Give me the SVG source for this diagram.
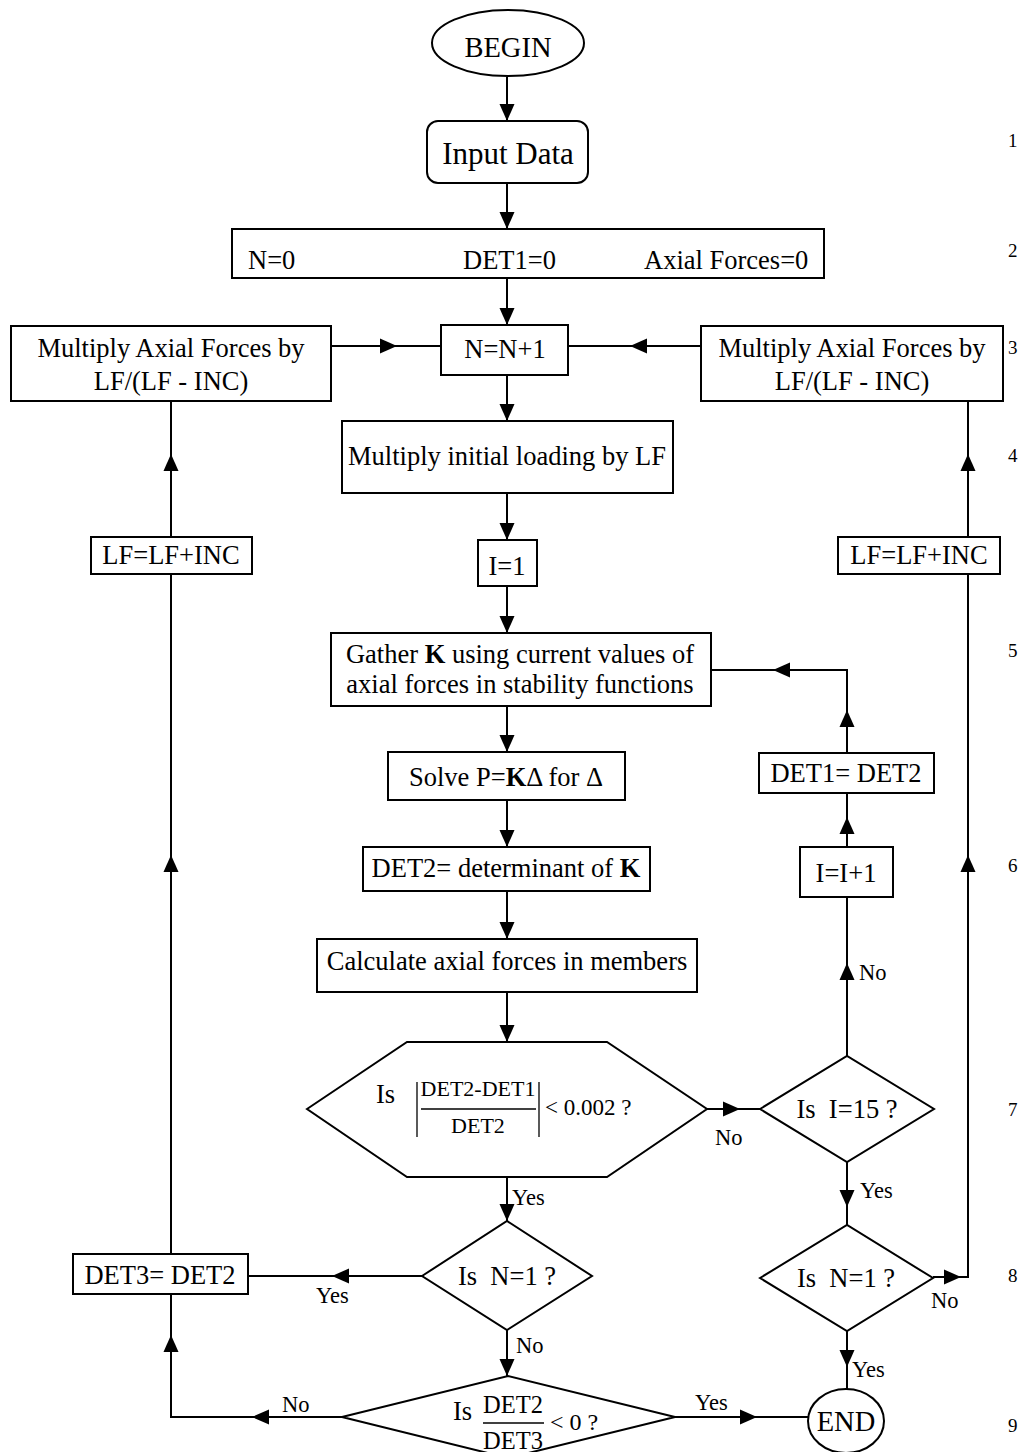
<svg xmlns="http://www.w3.org/2000/svg" xmlns:xlink="http://www.w3.org/1999/xlink" width="1032" height="1452" viewBox="0 0 1032 1452">
  <style>
    .shape { fill: #fff; stroke: #000; stroke-width: 2; }
    .wire { fill: none; stroke: #000; stroke-width: 2; }
    .bar { fill: none; stroke: #000; stroke-width: 1.3; }
    text { font-family: "Liberation Serif", "Times New Roman", serif; fill: #000; }
    .t { font-size: 26.5px; }
    .c { text-anchor: middle; }
    .big { font-size: 31px; }
    .term { font-size: 28.5px; }
    .lbl { font-size: 22.5px; }
    .num { font-size: 19px; }
    .frac { font-size: 22px; }
    .frac2 { font-size: 24.5px; }
    .b { font-weight: bold; }
  </style>
  <defs>
    <!-- arrowhead pointing along +x, tip at origin -->
    <path id="ah" d="M0,0 L-17,-7.5 L-17,7.5 Z" fill="#000"/>
  </defs>

  <rect width="1032" height="1452" fill="#fff"/>

  <!-- connectors -->
  <g id="connectors">
    <!-- main column -->
    <line class="wire" x1="507" y1="77" x2="507" y2="121"/>
    <use xlink:href="#ah" transform="translate(507,121) rotate(90)"/>
    <line class="wire" x1="507" y1="183" x2="507" y2="229"/>
    <use xlink:href="#ah" transform="translate(507,229) rotate(90)"/>
    <line class="wire" x1="507" y1="278" x2="507" y2="325"/>
    <use xlink:href="#ah" transform="translate(507,325) rotate(90)"/>
    <line class="wire" x1="507" y1="375" x2="507" y2="421"/>
    <use xlink:href="#ah" transform="translate(507,421) rotate(90)"/>
    <line class="wire" x1="507" y1="493" x2="507" y2="540"/>
    <use xlink:href="#ah" transform="translate(507,540) rotate(90)"/>
    <line class="wire" x1="507" y1="586" x2="507" y2="633"/>
    <use xlink:href="#ah" transform="translate(507,633) rotate(90)"/>
    <line class="wire" x1="507" y1="706" x2="507" y2="752"/>
    <use xlink:href="#ah" transform="translate(507,752) rotate(90)"/>
    <line class="wire" x1="507" y1="800" x2="507" y2="847"/>
    <use xlink:href="#ah" transform="translate(507,847) rotate(90)"/>
    <line class="wire" x1="507" y1="891" x2="507" y2="939"/>
    <use xlink:href="#ah" transform="translate(507,939) rotate(90)"/>
    <line class="wire" x1="507" y1="992" x2="507" y2="1042"/>
    <use xlink:href="#ah" transform="translate(507,1042) rotate(90)"/>
    <line class="wire" x1="507" y1="1177" x2="507" y2="1221"/>
    <use xlink:href="#ah" transform="translate(507,1221) rotate(90)"/>
    <text class="lbl" x="512" y="1205">Yes</text>
    <line class="wire" x1="507" y1="1330" x2="507" y2="1376"/>
    <use xlink:href="#ah" transform="translate(507,1376) rotate(90)"/>
    <text class="lbl" x="516" y="1353">No</text>

    <!-- side boxes into N=N+1 -->
    <line class="wire" x1="331" y1="346" x2="441" y2="346"/>
    <use xlink:href="#ah" transform="translate(397,346)"/>
    <line class="wire" x1="701" y1="346" x2="568" y2="346"/>
    <use xlink:href="#ah" transform="translate(630,346) rotate(180)"/>

    <!-- left return path -->
    <line class="wire" x1="171" y1="537" x2="171" y2="401"/>
    <use xlink:href="#ah" transform="translate(171,454) rotate(-90)"/>
    <line class="wire" x1="171" y1="1254" x2="171" y2="574"/>
    <use xlink:href="#ah" transform="translate(171,855) rotate(-90)"/>
    <line class="wire" x1="422" y1="1276" x2="248" y2="1276"/>
    <use xlink:href="#ah" transform="translate(332,1276) rotate(180)"/>
    <text class="lbl" x="316" y="1303">Yes</text>
    <polyline class="wire" points="342,1417 171,1417 171,1294"/>
    <use xlink:href="#ah" transform="translate(252,1417) rotate(180)"/>
    <use xlink:href="#ah" transform="translate(171,1335) rotate(-90)"/>
    <text class="lbl" x="282" y="1412">No</text>

    <!-- bottom test to END -->
    <line class="wire" x1="675" y1="1417" x2="808" y2="1417"/>
    <use xlink:href="#ah" transform="translate(757,1417)"/>
    <text class="lbl" x="695" y="1410">Yes</text>

    <!-- inner iteration loop -->
    <line class="wire" x1="707" y1="1109" x2="760" y2="1109"/>
    <use xlink:href="#ah" transform="translate(740,1109)"/>
    <text class="lbl" x="715" y="1145">No</text>
    <line class="wire" x1="847" y1="1056" x2="847" y2="897"/>
    <use xlink:href="#ah" transform="translate(847,963) rotate(-90)"/>
    <text class="lbl" x="859" y="980">No</text>
    <line class="wire" x1="847" y1="847" x2="847" y2="793"/>
    <use xlink:href="#ah" transform="translate(847,817) rotate(-90)"/>
    <polyline class="wire" points="847,753 847,670 711,670"/>
    <use xlink:href="#ah" transform="translate(847,710) rotate(-90)"/>
    <use xlink:href="#ah" transform="translate(773,670) rotate(180)"/>

    <!-- right return path -->
    <line class="wire" x1="847" y1="1162" x2="847" y2="1225"/>
    <use xlink:href="#ah" transform="translate(847,1207) rotate(90)"/>
    <text class="lbl" x="860" y="1198">Yes</text>
    <polyline class="wire" points="933,1277 968,1277 968,574"/>
    <use xlink:href="#ah" transform="translate(961,1277)"/>
    <use xlink:href="#ah" transform="translate(968,855) rotate(-90)"/>
    <text class="lbl" x="931" y="1308">No</text>
    <line class="wire" x1="968" y1="537" x2="968" y2="401"/>
    <use xlink:href="#ah" transform="translate(968,454) rotate(-90)"/>
    <line class="wire" x1="847" y1="1331" x2="847" y2="1389"/>
    <use xlink:href="#ah" transform="translate(847,1367) rotate(90)"/>
    <text class="lbl" x="852" y="1377">Yes</text>
  </g>

  <!-- nodes -->
  <g id="begin">
    <ellipse class="shape" cx="508" cy="43" rx="76" ry="33"/>
    <text class="term c" x="508" y="57">BEGIN</text>
  </g>
  <g id="input-data">
    <rect class="shape" x="427" y="121" width="161" height="62" rx="11"/>
    <text class="big c" x="508" y="164">Input Data</text>
  </g>
  <g id="init">
    <rect class="shape" x="232" y="229" width="592" height="49"/>
    <text class="t" x="248" y="269">N=0</text>
    <text class="t" x="463" y="269">DET1=0</text>
    <text class="t" x="644" y="269">Axial Forces=0</text>
  </g>
  <g id="n-inc">
    <rect class="shape" x="441" y="325" width="127" height="50"/>
    <text class="t c" x="505" y="358">N=N+1</text>
  </g>
  <g id="scale-left">
    <rect class="shape" x="11" y="326" width="320" height="75"/>
    <text class="t c" x="171" y="357">Multiply Axial Forces by</text>
    <text class="t c" x="171" y="390">LF/(LF - INC)</text>
  </g>
  <g id="scale-right">
    <rect class="shape" x="701" y="326" width="302" height="75"/>
    <text class="t c" x="852" y="357">Multiply Axial Forces by</text>
    <text class="t c" x="852" y="390">LF/(LF - INC)</text>
  </g>
  <g id="load">
    <rect class="shape" x="342" y="421" width="331" height="72"/>
    <text class="t c" x="507" y="465">Multiply initial loading by LF</text>
  </g>
  <g id="i-init">
    <rect class="shape" x="478" y="540" width="59" height="46"/>
    <text class="t c" x="507" y="575">I=1</text>
  </g>
  <g id="gather">
    <rect class="shape" x="331" y="633" width="380" height="73"/>
    <text class="t c" x="520" y="663">Gather <tspan class="b">K</tspan> using current values of</text>
    <text class="t c" x="520" y="693">axial forces in stability functions</text>
  </g>
  <g id="solve">
    <rect class="shape" x="388" y="752" width="237" height="48"/>
    <text class="t c" x="506" y="786">Solve P=<tspan class="b">K</tspan>Δ for Δ</text>
  </g>
  <g id="det2">
    <rect class="shape" x="363" y="847" width="287" height="44"/>
    <text class="t c" x="506" y="877">DET2= determinant of <tspan class="b">K</tspan></text>
  </g>
  <g id="calc">
    <rect class="shape" x="317" y="939" width="380" height="53"/>
    <text class="t c" x="507" y="970">Calculate axial forces in members</text>
  </g>
  <g id="converge">
    <polygon class="shape" points="307,1109 407,1042 607,1042 707,1109 607,1177 407,1177"/>
    <text class="t" x="376" y="1103">Is</text>
    <line class="bar" x1="417" y1="1082" x2="417" y2="1137"/>
    <line class="bar" x1="539" y1="1082" x2="539" y2="1137"/>
    <text class="frac c" x="478" y="1096">DET2-DET1</text>
    <line class="bar" x1="421" y1="1109" x2="536" y2="1109"/>
    <text class="frac c" x="478" y="1133">DET2</text>
    <text class="t" x="545" y="1115" style="font-size:23px">&lt; 0.002 ?</text>
  </g>
  <g id="first-left">
    <polygon class="shape" points="422,1276 507,1221 592,1276 507,1330"/>
    <text class="t c" x="507" y="1285" xml:space="preserve">Is  N=1 ?</text>
  </g>
  <g id="det3">
    <rect class="shape" x="73" y="1254" width="175" height="40"/>
    <text class="t c" x="160" y="1284">DET3= DET2</text>
  </g>
  <g id="sign">
    <polygon class="shape" points="342,1417 508,1376 675,1417 508,1458"/>
    <text class="t" x="453" y="1420">Is</text>
    <text class="frac2 c" x="513" y="1413">DET2</text>
    <line class="bar" x1="483" y1="1423" x2="544" y2="1423"/>
    <text class="frac2 c" x="513" y="1449">DET3</text>
    <text class="t" x="550" y="1430" style="font-size:24px">&lt; 0 ?</text>
  </g>
  <g id="lf-left">
    <rect class="shape" x="91" y="537" width="161" height="37"/>
    <text class="t c" x="171" y="564">LF=LF+INC</text>
  </g>
  <g id="lf-right">
    <rect class="shape" x="838" y="537" width="162" height="37"/>
    <text class="t c" x="919" y="564">LF=LF+INC</text>
  </g>
  <g id="iter-limit">
    <polygon class="shape" points="760,1109 847,1056 934,1109 847,1162"/>
    <text class="t c" x="847" y="1118" xml:space="preserve">Is  I=15 ?</text>
  </g>
  <g id="i-inc">
    <rect class="shape" x="800" y="847" width="93" height="50"/>
    <text class="t c" x="846" y="882">I=I+1</text>
  </g>
  <g id="det-shift">
    <rect class="shape" x="759" y="753" width="175" height="40"/>
    <text class="t c" x="846" y="782">DET1= DET2</text>
  </g>
  <g id="first-right">
    <polygon class="shape" points="760,1278 847,1225 933,1278 847,1331"/>
    <text class="t c" x="846" y="1287" xml:space="preserve">Is  N=1 ?</text>
  </g>
  <g id="end">
    <ellipse class="shape" cx="846" cy="1421" rx="38" ry="32"/>
    <text class="term c" x="846" y="1431">END</text>
  </g>

  <!-- step numbers -->
  <g id="steps">
    <text class="num" x="1008" y="147">1</text>
    <text class="num" x="1008" y="257">2</text>
    <text class="num" x="1008" y="354">3</text>
    <text class="num" x="1008" y="462">4</text>
    <text class="num" x="1008" y="657">5</text>
    <text class="num" x="1008" y="872">6</text>
    <text class="num" x="1008" y="1116">7</text>
    <text class="num" x="1008" y="1282">8</text>
    <text class="num" x="1008" y="1432">9</text>
  </g>
</svg>
